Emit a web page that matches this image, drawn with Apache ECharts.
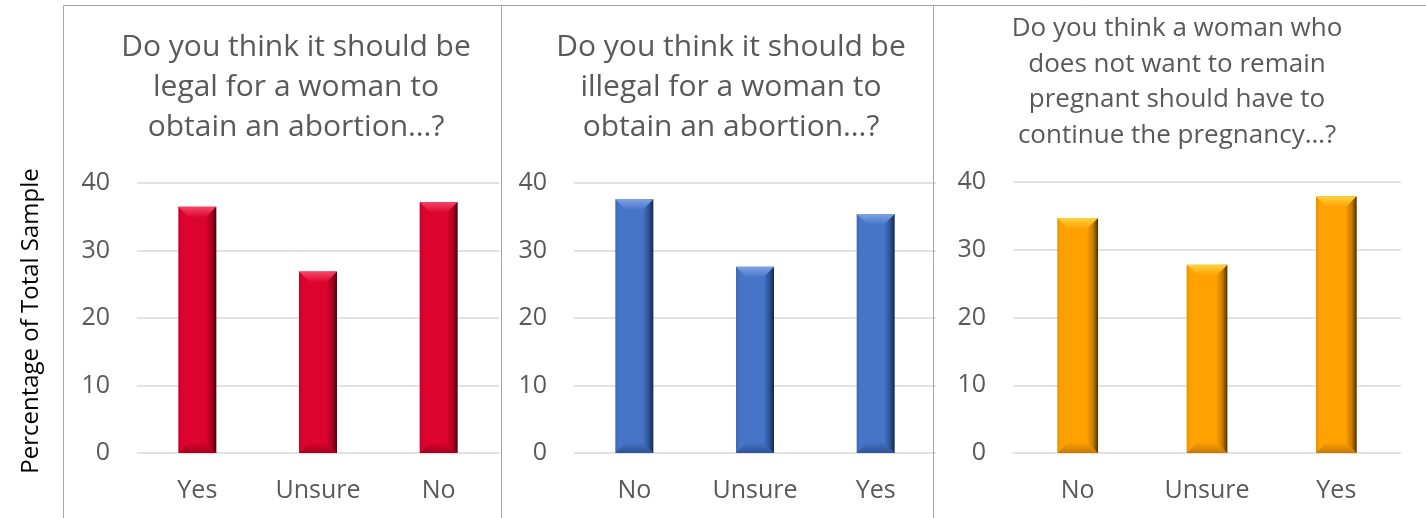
<!DOCTYPE html>
<html>
<head>
<meta charset="utf-8">
<script src="https://cdn.jsdelivr.net/npm/echarts@6/dist/echarts.min.js"></script>
<style>
html,body{margin:0;padding:0;background:#fff;}
#c{width:1426px;height:518px;}
</style>
</head>
<body>
<div id="c"></div>
<script>
// ---- data ----
var categories1 = ['Yes', 'Unsure', 'No'];
var values1 = [36.5, 26.9, 37.2];
var categories2 = ['No', 'Unsure', 'Yes'];
var values2 = [37.6, 27.6, 35.4];
var categories3 = ['No', 'Unsure', 'Yes'];
var values3 = [34.7, 27.8, 37.9];
var yTicks = [0, 10, 20, 30, 40];
var title1 = 'Do you think it should be\nlegal for a woman to\nobtain an abortion\u2026?';
var title2 = 'Do you think it should be\nillegal for a woman to\nobtain an abortion\u2026?';
var title3 = 'Do you think a woman who\ndoes not want to remain\npregnant should have to\ncontinue the pregnancy\u2026?';
var yAxisTitle = 'Percentage of Total Sample';

// ---- styles ----
var FONT = '"Open Sans", sans-serif';
var TXT = '#595959';
var GRIDC = '#D9D9D9';
var BORDER = '#A6A6A6';
var palettes = [
  {base:'#DC042E', light:'#F4476A', dark:'#A8001F', edge:'#4A000E', left:'#C8002A'},
  {base:'#4674C6', light:'#7FA3E6', dark:'#2D5396', edge:'#152848', left:'#4068B4'},
  {base:'#FFA100', light:'#FFD23E', dark:'#C47A00', edge:'#4A3000', left:'#E89200'}
];

function bevelRenderer(p){
  return function(params, api){
    var idx = api.value(0), val = api.value(1);
    var top = api.coord([idx, val]);
    var base = api.coord([idx, 0]);
    var bw = api.size([1, 0])[0] * 0.315;
    var x0 = top[0] - bw/2, x1 = top[0] + bw/2, y0 = top[1], y1 = base[1];
    var b = Math.min(11, bw/3.2);
    return {
      type:'group',
      children:[
        {type:'rect', shape:{x:x0, y:y0, width:bw, height:y1-y0},
          style:{fill:{type:'linear', x:0, y:0, x2:1, y2:0, colorStops:[
            {offset:0, color:p.left},{offset:0.1, color:p.base},{offset:0.72, color:p.base},
            {offset:0.88, color:p.dark},{offset:1, color:p.edge}]}}},
        {type:'polygon', shape:{points:[[x0,y0],[x1,y0],[x1-b,y0+b],[x0+b,y0+b]]},
          style:{fill:{type:'linear', x:0, y:0, x2:0, y2:1, colorStops:[
            {offset:0, color:p.light},{offset:1, color:p.base}]}}},
        {type:'polygon', shape:{points:[[x0,y1],[x1,y1],[x1-b,y1-b],[x0+b,y1-b]]},
          style:{fill:{type:'linear', x:0, y:1, x2:0, y2:0, colorStops:[
            {offset:0, color:p.dark},{offset:1, color:p.base}]}}}
      ]
    };
  };
}

var grids = [
  {left:137, width:362, top:183, height:270},
  {left:574, width:362, top:183, height:270},
  {left:1013, width:388, top:182, height:271}
];
var cats = [categories1, categories2, categories3];
var vals = [values1, values2, values3];

var option = {
  animation:false,
  backgroundColor:'#ffffff',
  grid: grids,
  xAxis: cats.map(function(c, i){
    return {type:'category', gridIndex:i, data:c,
      axisLine:{show:false}, axisTick:{show:false},
      axisLabel:{color:TXT, fontFamily:FONT, fontSize:25, margin:25}};
  }),
  yAxis: cats.map(function(c, i){
    return {type:'value', gridIndex:i, min:yTicks[0], max:yTicks[yTicks.length-1], interval:10,
      axisLine:{show:false}, axisTick:{show:false},
      axisLabel:{color:TXT, fontFamily:FONT, fontSize:25, margin:27},
      splitLine:{show:true, lineStyle:{color:GRIDC, width:1.5}}};
  }),
  series: vals.map(function(v, i){
    return {type:'custom', xAxisIndex:i, yAxisIndex:i,
      data: v.map(function(d, j){ return [j, d]; }),
      renderItem: bevelRenderer(palettes[i])};
  }),
  graphic: [
    {type:'text', x:296, y:27, style:{text:title1, textAlign:'center', textVerticalAlign:'top',
      font:'30px ' + FONT, fill:TXT, lineHeight:40}},
    {type:'text', x:731, y:27, style:{text:title2, textAlign:'center', textVerticalAlign:'top',
      font:'30px ' + FONT, fill:TXT, lineHeight:40}},
    {type:'text', x:1177, y:11, style:{text:title3, textAlign:'center', textVerticalAlign:'top',
      font:'26px ' + FONT, fill:TXT, lineHeight:35.5}},
    {type:'text', x:31, y:321, rotation:Math.PI/2, style:{text:yAxisTitle, textAlign:'center', textVerticalAlign:'middle',
      font:'24px ' + FONT, fill:'#000000'}},
    {type:'line', z:100, shape:{x1:63.5, y1:5.5, x2:1426, y2:5.5}, style:{stroke:BORDER, lineWidth:1}},
    {type:'line', z:100, shape:{x1:63.5, y1:5.5, x2:63.5, y2:518}, style:{stroke:BORDER, lineWidth:1}},
    {type:'line', z:100, shape:{x1:501.5, y1:5.5, x2:501.5, y2:518}, style:{stroke:BORDER, lineWidth:1}},
    {type:'line', z:100, shape:{x1:933.5, y1:5.5, x2:933.5, y2:518}, style:{stroke:BORDER, lineWidth:1}}
  ]
};
var chart = echarts.init(document.getElementById('c'), null, {renderer:'canvas'});
chart.setOption(option);
</script>
</body>
</html>
